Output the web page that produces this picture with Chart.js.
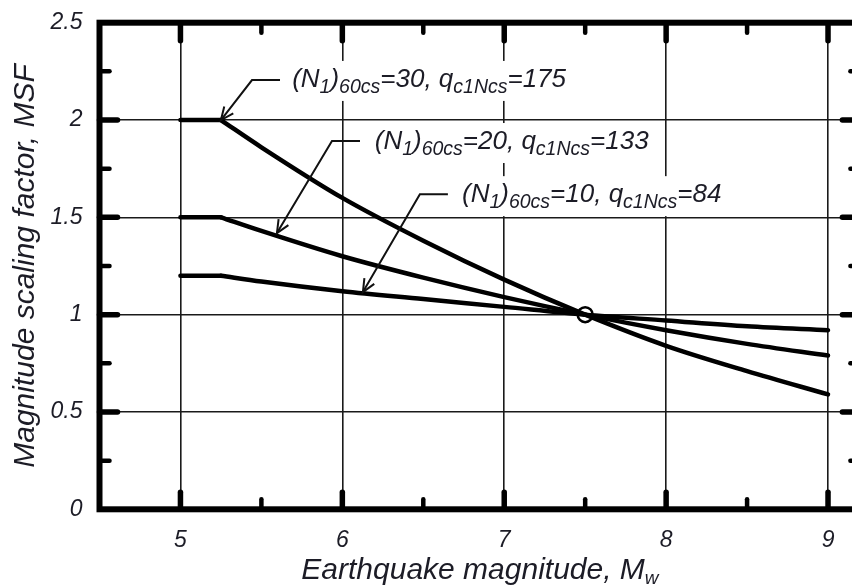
<!DOCTYPE html>
<html>
<head>
<meta charset="utf-8">
<script src="https://cdn.jsdelivr.net/npm/chart.js@4.4.1/dist/chart.umd.min.js"></script>
<style>
  html, body { margin: 0; padding: 0; background: #ffffff; overflow: hidden; }
  canvas { display: block; }
</style>
</head>
<body>
<canvas id="chart" width="852" height="586"></canvas>
<script>
// Earthquake magnitude (Mw)
const magnitudes = [5, 5.25, 5.5, 6, 6.5, 7, 7.5, 8, 8.5, 9];
// Magnitude scaling factor curves for three soil densities
const msfN30 = [2.00, 2.00, 1.86, 1.60, 1.38, 1.18, 1.00, 0.84, 0.71, 0.59];
const msfN20 = [1.50, 1.50, 1.43, 1.30, 1.19, 1.09, 1.00, 0.92, 0.85, 0.79];
const msfN10 = [1.20, 1.20, 1.17, 1.12, 1.08, 1.04, 1.00, 0.97, 0.94, 0.92];
// Common point where all curves meet (M = 7.5, MSF = 1)
const pivotMagnitude = [7.5];
const pivotMsf = [1.0];

// Axis ticks
const xTickValues = [5, 6, 7, 8, 9];
const xTickLabels = ['5', '6', '7', '8', '9'];
const xMinorValues = [5.5, 6.5, 7.5, 8.5];
const yTickValues = [0, 0.5, 1, 1.5, 2, 2.5];
const yTickLabels = ['0', '0.5', '1', '1.5', '2', '2.5'];
const yMinorValues = [0.25, 0.75, 1.25, 1.75, 2.25];

// Curve labels: [text, isSubscript]
const labelN30 = [['(N', 0], ['1', 1], [')', 0], ['60cs', 1], ['=30, q', 0], ['c1Ncs', 1], ['=175', 0]];
const labelN20 = [['(N', 0], ['1', 1], [')', 0], ['60cs', 1], ['=20, q', 0], ['c1Ncs', 1], ['=133', 0]];
const labelN10 = [['(N', 0], ['1', 1], [')', 0], ['60cs', 1], ['=10, q', 0], ['c1Ncs', 1], ['=84', 0]];

const FONT = '"Liberation Sans", Arial, sans-serif';
const INK = '#111111';
const TEXT = '#1c1c26';

// Plot frame in canvas pixels; its right side runs just past the canvas edge
const FRAME = { left: 99.5, top: 22.7, right: 860.4, bottom: 509.3 };

// Label placement (data units): text anchor, leader elbow, arrow tip on the curve
const callouts = [
  { pieces: labelN30, text: { x: 5.69, y: 2.17 }, lead: { x0: 5.615, x1: 5.442, y: 2.205 }, tip: { x: 5.25, y: 2.0 } },
  { pieces: labelN20, text: { x: 6.20, y: 1.851 }, lead: { x0: 6.109, x1: 5.936, y: 1.892 }, tip: { x: 5.596, y: 1.419 } },
  { pieces: labelN10, text: { x: 6.739, y: 1.578 }, lead: { x0: 6.652, x1: 6.479, y: 1.619 }, tip: { x: 6.127, y: 1.116 } }
];

function drawRich(ctx, x, y, pieces, mainSize, subSize, drop) {
  ctx.textAlign = 'left';
  ctx.textBaseline = 'alphabetic';
  for (const [t, sub] of pieces) {
    ctx.font = 'italic ' + (sub ? subSize : mainSize) + 'px ' + FONT;
    ctx.fillText(t, x, y + (sub ? drop : 0));
    x += ctx.measureText(t).width;
  }
  return x;
}
function measureRich(ctx, pieces, mainSize, subSize) {
  let w = 0;
  for (const [t, sub] of pieces) {
    ctx.font = 'italic ' + (sub ? subSize : mainSize) + 'px ' + FONT;
    w += ctx.measureText(t).width;
  }
  return w;
}

// Pin the chart area and both scales to the frame once Chart.js has laid them out.
const pinFrame = {
  id: 'pinFrame',
  afterLayout(chart) {
    const a = chart.chartArea, xs = chart.scales.x, ys = chart.scales.y;
    Object.assign(a, FRAME);
    a.width = a.right - a.left;
    a.height = a.bottom - a.top;
    Object.assign(xs, { left: FRAME.left, right: FRAME.right, top: FRAME.bottom, bottom: chart.height });
    xs.width = xs.right - xs.left; xs.height = xs.bottom - xs.top;
    Object.assign(ys, { left: 0, right: FRAME.left, top: FRAME.top, bottom: FRAME.bottom });
    ys.width = ys.right - ys.left; ys.height = ys.bottom - ys.top;
    xs.configure();
    ys.configure();
  }
};

const decorations = {
  id: 'decorations',
  afterDatasetsDraw(chart) {
    const ctx = chart.ctx;
    const xs = chart.scales.x, ys = chart.scales.y;
    const a = chart.chartArea;
    ctx.save();

    // curve labels on a white backing, with leaders and open arrowheads
    for (const c of callouts) {
      const tx = xs.getPixelForValue(c.text.x), ty = ys.getPixelForValue(c.text.y);
      const w = measureRich(ctx, c.pieces, 26, 19.5);
      ctx.fillStyle = '#ffffff';
      ctx.fillRect(tx - 5, ty - 26, w + 10, 40);
      ctx.fillStyle = TEXT;
      drawRich(ctx, tx, ty, c.pieces, 26, 19.5, 6);

      const lx0 = xs.getPixelForValue(c.lead.x0), lx1 = xs.getPixelForValue(c.lead.x1);
      const ly = ys.getPixelForValue(c.lead.y);
      const px = xs.getPixelForValue(c.tip.x), py = ys.getPixelForValue(c.tip.y);
      ctx.strokeStyle = INK;
      ctx.lineWidth = 2;
      ctx.lineJoin = 'miter';
      ctx.beginPath();
      ctx.moveTo(lx0, ly);
      ctx.lineTo(lx1, ly);
      ctx.lineTo(px, py);
      ctx.stroke();
      const ang = Math.atan2(py - ly, px - lx1);
      const len = 14, spread = 0.42;
      ctx.beginPath();
      ctx.moveTo(px - len * Math.cos(ang - spread), py - len * Math.sin(ang - spread));
      ctx.lineTo(px, py);
      ctx.lineTo(px - len * Math.cos(ang + spread), py - len * Math.sin(ang + spread));
      ctx.stroke();
    }

    // heavy frame
    ctx.strokeStyle = '#000000';
    ctx.lineWidth = 6;
    ctx.lineJoin = 'miter';
    ctx.strokeRect(a.left, a.top, a.right - a.left, a.bottom - a.top);

    // inward tick marks on all four sides
    ctx.lineCap = 'round';
    const tick = (x0, y0, x1, y1, w) => {
      ctx.lineWidth = w;
      ctx.beginPath(); ctx.moveTo(x0, y0); ctx.lineTo(x1, y1); ctx.stroke();
    };
    for (const v of xTickValues) {
      const p = xs.getPixelForValue(v);
      tick(p, a.bottom, p, a.bottom - 17, 5.5);
      tick(p, a.top, p, a.top + 18, 5.5);
    }
    for (const v of xMinorValues) {
      const p = xs.getPixelForValue(v);
      tick(p, a.bottom, p, a.bottom - 10, 4.5);
      tick(p, a.top, p, a.top + 10, 4.5);
    }
    for (const v of yTickValues.slice(1, -1)) {
      const p = ys.getPixelForValue(v);
      tick(a.left, p, a.left + 18, p, 5.5);
      tick(a.right, p, a.right - 18, p, 5.5);
    }
    for (const v of yMinorValues) {
      const p = ys.getPixelForValue(v);
      tick(a.left, p, a.left + 10, p, 4.5);
      tick(a.right, p, a.right - 10, p, 4.5);
    }

    // axis titles
    ctx.fillStyle = TEXT;
    ctx.textAlign = 'center';
    ctx.textBaseline = 'alphabetic';
    ctx.save();
    ctx.translate(34, (a.top + a.bottom) / 2);
    ctx.rotate(-Math.PI / 2);
    ctx.font = 'italic 30px ' + FONT;
    ctx.fillText('Magnitude scaling factor, MSF', 0, 0);
    ctx.restore();

    const xt = [['Earthquake magnitude, M', 0], ['w', 1]];
    const tw = measureRich(ctx, xt, 30, 19);
    drawRich(ctx, (a.left + a.right) / 2 - tw / 2, 579, xt, 30, 19, 5);

    ctx.restore();
  }
};

const toPoints = (xv, yv) => xv.map((x, i) => ({ x: x, y: yv[i] }));
const curveStyle = {
  borderColor: '#000000', backgroundColor: '#000000', borderWidth: 4.5,
  pointRadius: 0, borderJoinStyle: 'round', borderCapStyle: 'round', fill: false
};
// flat plateau up to Mw 5.25, then the smooth decreasing branch
const curveSets = [msfN30, msfN20, msfN10].flatMap(vals => [
  Object.assign({ data: toPoints(magnitudes.slice(0, 2), vals.slice(0, 2)), tension: 0 }, curveStyle),
  Object.assign({ data: toPoints(magnitudes.slice(1), vals.slice(1)), cubicInterpolationMode: 'monotone' }, curveStyle)
]);

new Chart(document.getElementById('chart'), {
  type: 'line',
  data: {
    datasets: curveSets.concat([{
      type: 'scatter', data: toPoints(pivotMagnitude, pivotMsf),
      pointRadius: 7.5, pointBackgroundColor: '#ffffff', pointBorderColor: '#000000',
      pointBorderWidth: 2.5, showLine: false
    }])
  },
  options: {
    responsive: false,
    devicePixelRatio: 1,
    animation: false,
    layout: { padding: { left: 0, top: 22.7, right: 0, bottom: 0 } },
    plugins: { legend: { display: false }, tooltip: { enabled: false } },
    scales: {
      x: {
        type: 'linear', min: 4.5, max: 9.2,
        afterBuildTicks: s => { s.ticks = xTickValues.map(v => ({ value: v })); },
        ticks: {
          callback: (v) => xTickLabels[xTickValues.indexOf(v)],
          font: { family: FONT, size: 23, style: 'italic' }, color: TEXT, padding: 18, maxRotation: 0
        },
        grid: { color: '#1a1a1a', lineWidth: 1.6, drawTicks: false },
        border: { display: false }
      },
      y: {
        type: 'linear', min: 0, max: 2.5,
        afterBuildTicks: s => { s.ticks = yTickValues.map(v => ({ value: v })); },
        ticks: {
          callback: (v) => yTickLabels[yTickValues.indexOf(v)],
          font: { family: FONT, size: 23, style: 'italic' }, color: TEXT, padding: 17
        },
        grid: { color: '#1a1a1a', lineWidth: 1.6, drawTicks: false },
        border: { display: false }
      }
    }
  },
  plugins: [pinFrame, decorations]
});
</script>
</body>
</html>
